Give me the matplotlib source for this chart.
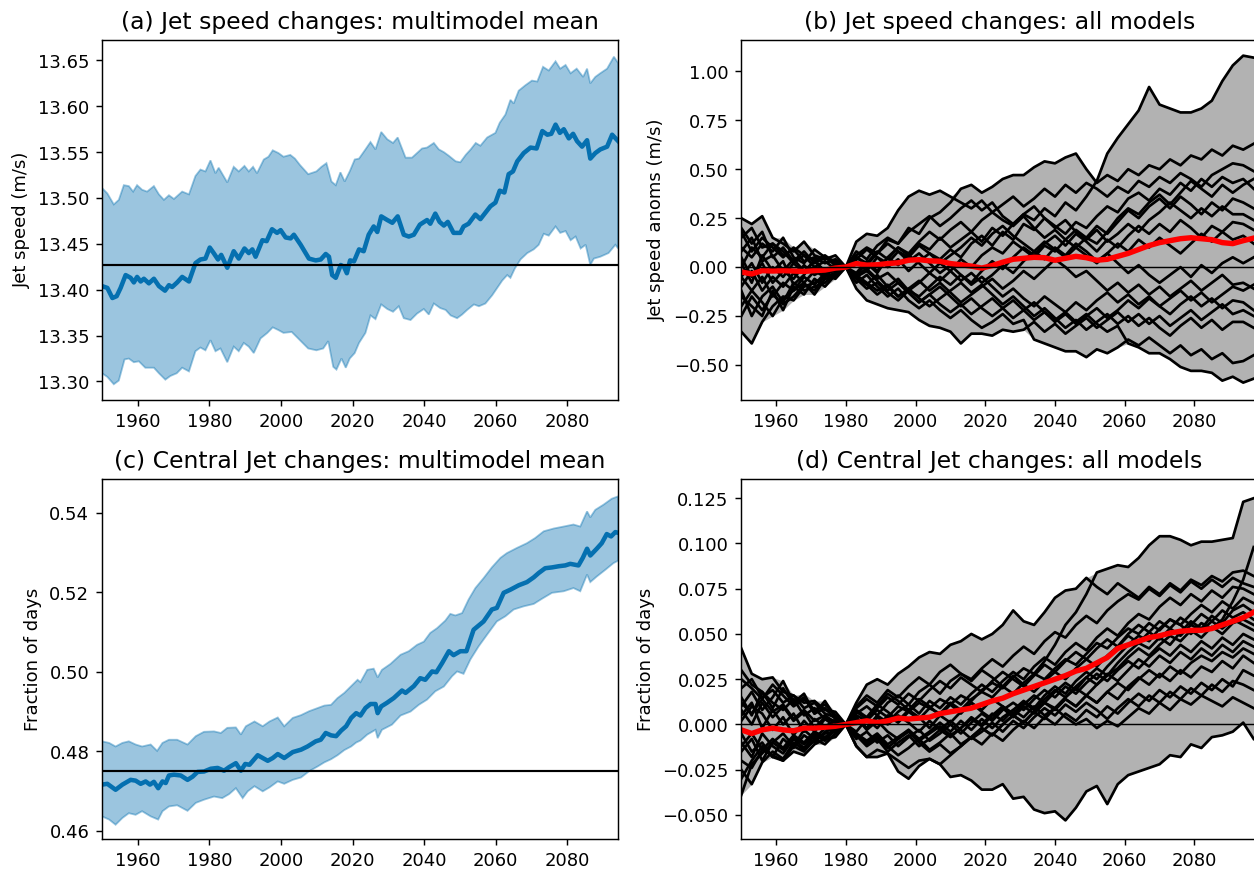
import matplotlib.pyplot as plt
import numpy as np

# ---------------- panel (a): jet speed, multimodel mean and spread ----------------
a_mean_yr = [1950.0, 1951.5, 1952.9, 1954.1, 1955.2, 1956.6, 1958.0, 1958.9, 1959.8, 1960.8,
             1961.7, 1963.1, 1964.5, 1965.9, 1967.6, 1968.7, 1969.6, 1971.0, 1972.4, 1974.3,
             1976.1, 1977.5, 1978.9, 1980.1, 1981.2, 1982.4, 1983.3, 1985.0, 1986.8, 1988.2,
             1989.8, 1991.0, 1992.0, 1992.9, 1994.8, 1996.0, 1997.5, 1998.9, 1999.9, 2001.3,
             2002.7, 2003.6, 2005.5, 2007.8, 2009.7, 2011.1, 2012.5, 2013.4, 2014.3, 2015.3,
             2016.7, 2017.6, 2018.4, 2019.3, 2020.4, 2021.8, 2023.1, 2024.5, 2025.9, 2026.9,
             2028.0, 2029.7, 2031.1, 2032.6, 2034.3, 2035.7, 2037.1, 2038.8, 2040.8, 2041.7,
             2043.1, 2044.3, 2045.5, 2046.6, 2048.2, 2050.1, 2051.0, 2052.4, 2054.3, 2055.7,
             2057.1, 2058.5, 2059.9, 2061.1, 2062.4, 2063.6, 2064.8, 2066.0, 2067.8, 2069.7,
             2071.4, 2073.0, 2074.4, 2075.5, 2076.7, 2077.9, 2079.0, 2080.4, 2081.6, 2082.7,
             2084.1, 2085.5, 2086.4, 2087.8, 2089.2, 2091.1, 2092.5, 2094.2]
a_mean = [13.404, 13.402, 13.391, 13.393, 13.402, 13.416, 13.413, 13.408, 13.414, 13.409,
          13.412, 13.407, 13.412, 13.404, 13.399, 13.405, 13.403, 13.408, 13.414, 13.409,
          13.429, 13.433, 13.434, 13.446, 13.440, 13.433, 13.438, 13.424, 13.442, 13.434,
          13.445, 13.440, 13.444, 13.436, 13.454, 13.453, 13.466, 13.462, 13.465, 13.457,
          13.456, 13.460, 13.449, 13.434, 13.432, 13.433, 13.439, 13.436, 13.416, 13.413,
          13.427, 13.425, 13.418, 13.432, 13.431, 13.444, 13.442, 13.460, 13.469, 13.463,
          13.480, 13.476, 13.473, 13.480, 13.460, 13.458, 13.460, 13.471, 13.476, 13.472,
          13.483, 13.474, 13.470, 13.474, 13.462, 13.462, 13.469, 13.472, 13.482, 13.477,
          13.484, 13.491, 13.495, 13.508, 13.506, 13.526, 13.529, 13.540, 13.549, 13.555,
          13.554, 13.573, 13.569, 13.570, 13.580, 13.571, 13.575, 13.565, 13.570, 13.562,
          13.556, 13.563, 13.543, 13.549, 13.553, 13.556, 13.569, 13.562]

a_up_yr = [1950.0, 1951.5, 1953.3, 1954.7, 1956.1, 1957.5, 1958.7, 1959.8, 1961.2, 1962.6,
           1964.5, 1965.9, 1967.3, 1968.7, 1970.1, 1972.4, 1974.3, 1976.1, 1977.5, 1978.9,
           1980.3, 1981.7, 1982.6, 1985.0, 1986.8, 1988.2, 1989.8, 1991.0, 1992.2, 1993.3,
           1995.2, 1996.5, 1997.7, 1999.3, 2000.7, 2002.6, 2003.9, 2005.3, 2007.6, 2009.9,
           2011.3, 2012.7, 2014.1, 2015.3, 2016.6, 2017.8, 2019.2, 2020.6, 2021.8, 2023.6,
           2025.0, 2026.4, 2028.0, 2029.7, 2031.3, 2032.6, 2034.8, 2036.6, 2038.0, 2039.4,
           2040.8, 2042.7, 2044.1, 2045.5, 2046.9, 2048.8, 2050.1, 2051.6, 2053.0, 2054.4,
           2055.7, 2057.6, 2059.9, 2061.1, 2062.7, 2064.1, 2065.0, 2066.4, 2068.3, 2070.1,
           2071.6, 2073.2, 2074.8, 2076.7, 2078.0, 2079.5, 2080.9, 2082.6, 2084.4, 2085.5,
           2086.4, 2087.8, 2089.2, 2091.1, 2093.0, 2094.2]
a_up = [13.511, 13.505, 13.493, 13.498, 13.514, 13.513, 13.507, 13.514, 13.509, 13.507,
        13.513, 13.504, 13.498, 13.503, 13.499, 13.507, 13.504, 13.524, 13.531, 13.529,
        13.541, 13.527, 13.533, 13.517, 13.534, 13.529, 13.535, 13.529, 13.534, 13.527,
        13.542, 13.545, 13.552, 13.549, 13.545, 13.547, 13.543, 13.536, 13.526, 13.529,
        13.534, 13.538, 13.518, 13.514, 13.528, 13.518, 13.529, 13.542, 13.543, 13.553,
        13.561, 13.553, 13.572, 13.564, 13.560, 13.566, 13.544, 13.544, 13.549, 13.554,
        13.555, 13.560, 13.553, 13.550, 13.546, 13.540, 13.539, 13.547, 13.553, 13.560,
        13.557, 13.566, 13.571, 13.582, 13.591, 13.607, 13.603, 13.617, 13.623, 13.628,
        13.627, 13.643, 13.639, 13.649, 13.641, 13.645, 13.636, 13.641, 13.632, 13.641,
        13.625, 13.632, 13.636, 13.641, 13.654, 13.647]

a_lo_yr = [1950.0, 1951.5, 1953.3, 1954.7, 1956.3, 1957.5, 1958.9, 1960.3, 1962.1, 1964.5,
           1965.9, 1967.7, 1969.1, 1970.9, 1972.4, 1974.3, 1976.1, 1977.5, 1978.9, 1980.3,
           1981.7, 1983.1, 1985.0, 1986.8, 1988.2, 1989.6, 1991.0, 1992.4, 1994.3, 1996.2,
           1997.7, 1999.3, 2000.7, 2003.0, 2005.3, 2007.6, 2009.9, 2011.8, 2013.2, 2014.6,
           2015.5, 2016.9, 2018.1, 2019.2, 2020.6, 2021.8, 2023.6, 2025.0, 2026.4, 2028.0,
           2029.7, 2031.3, 2032.9, 2034.3, 2036.2, 2038.0, 2039.9, 2041.3, 2042.7, 2044.5,
           2046.0, 2047.4, 2049.2, 2050.6, 2052.0, 2053.9, 2055.3, 2057.1, 2059.0, 2060.4,
           2061.8, 2063.2, 2064.1, 2065.3, 2066.9, 2068.8, 2070.6, 2072.0, 2073.4, 2074.8,
           2076.7, 2078.0, 2079.5, 2080.9, 2082.3, 2083.7, 2085.1, 2086.4, 2087.4, 2089.2,
           2091.5, 2093.4, 2094.2]
a_lo = [13.309, 13.305, 13.297, 13.301, 13.324, 13.325, 13.321, 13.322, 13.315, 13.315,
        13.309, 13.302, 13.306, 13.309, 13.315, 13.311, 13.333, 13.337, 13.334, 13.345,
        13.333, 13.336, 13.321, 13.338, 13.333, 13.342, 13.338, 13.331, 13.347, 13.353,
        13.359, 13.356, 13.353, 13.354, 13.345, 13.336, 13.334, 13.336, 13.344, 13.316,
        13.313, 13.325, 13.315, 13.325, 13.331, 13.342, 13.353, 13.372, 13.368, 13.384,
        13.379, 13.376, 13.382, 13.369, 13.367, 13.374, 13.379, 13.373, 13.385, 13.380,
        13.378, 13.372, 13.369, 13.373, 13.378, 13.384, 13.382, 13.385, 13.394, 13.402,
        13.410, 13.416, 13.413, 13.423, 13.433, 13.440, 13.444, 13.449, 13.461, 13.459,
        13.469, 13.462, 13.464, 13.454, 13.458, 13.445, 13.449, 13.427, 13.434, 13.436,
        13.440, 13.449, 13.445]
a_ref = 13.4275

# ---------------- panel (c): central jet fraction, multimodel mean and spread ----------------
c_mean_yr = [1950.0, 1951.5, 1953.8, 1955.7, 1958.0, 1959.4, 1960.8, 1962.2, 1963.4, 1964.5,
             1965.7, 1966.9, 1967.8, 1968.7, 1970.1, 1972.0, 1973.9, 1975.3, 1976.7, 1978.5,
             1980.4, 1982.3, 1984.1, 1985.5, 1987.4, 1988.8, 1990.0, 1991.2, 1993.5, 1994.9,
             1996.3, 1997.7, 1999.1, 2000.9, 2003.3, 2005.6, 2007.4, 2009.7, 2011.1, 2012.5,
             2014.0, 2015.4, 2016.8, 2018.2, 2019.6, 2021.0, 2022.2, 2023.6, 2025.0, 2026.4,
             2027.0, 2028.0, 2029.6, 2031.5, 2033.8, 2034.8, 2037.1, 2038.9, 2040.3, 2042.2,
             2043.4, 2045.0, 2046.9, 2048.2, 2050.1, 2051.8, 2053.8, 2056.6, 2058.9, 2060.3,
             2062.2, 2064.1, 2066.4, 2068.7, 2070.6, 2072.0, 2073.8, 2075.7, 2077.6, 2079.4,
             2080.8, 2083.1, 2084.3, 2085.5, 2086.4, 2088.2, 2089.6, 2091.0, 2092.2, 2093.4,
             2094.2]
c_mean = [0.4716, 0.4718, 0.4703, 0.4716, 0.4728, 0.4726, 0.4718, 0.4724, 0.4716, 0.4723,
          0.4707, 0.4724, 0.4720, 0.4739, 0.4741, 0.4739, 0.4728, 0.4736, 0.4748, 0.4749,
          0.4756, 0.4758, 0.4751, 0.4760, 0.4770, 0.4751, 0.4768, 0.4766, 0.4790, 0.4783,
          0.4776, 0.4783, 0.4793, 0.4783, 0.4798, 0.4804, 0.4812, 0.4825, 0.4829, 0.4846,
          0.4840, 0.4838, 0.4852, 0.4863, 0.4884, 0.4896, 0.4890, 0.4909, 0.4919, 0.4919,
          0.4896, 0.4913, 0.4922, 0.4934, 0.4953, 0.4947, 0.4964, 0.4984, 0.4980, 0.5001,
          0.4999, 0.5022, 0.5052, 0.5042, 0.5052, 0.5052, 0.5106, 0.5127, 0.5157, 0.5161,
          0.5199, 0.5207, 0.5218, 0.5226, 0.5238, 0.5249, 0.5261, 0.5263, 0.5266, 0.5268,
          0.5272, 0.5268, 0.5287, 0.5310, 0.5293, 0.5310, 0.5324, 0.5347, 0.5341, 0.5352,
          0.5350]

c_up_yr = [1950.0, 1952.0, 1953.8, 1955.7, 1957.5, 1959.4, 1961.2, 1963.6, 1965.4, 1966.9,
           1968.7, 1971.0, 1973.9, 1976.2, 1978.5, 1981.3, 1983.2, 1985.0, 1987.4, 1988.8,
           1990.2, 1992.6, 1994.9, 1996.8, 1999.1, 2000.9, 2003.3, 2005.6, 2007.9, 2010.3,
           2012.1, 2014.0, 2015.8, 2017.7, 2019.6, 2021.4, 2022.2, 2024.1, 2025.9, 2027.0,
           2028.2, 2030.6, 2033.4, 2035.7, 2038.0, 2039.9, 2041.7, 2043.6, 2045.9, 2047.3,
           2048.7, 2050.6, 2052.4, 2054.3, 2056.6, 2058.9, 2061.3, 2063.1, 2065.9, 2068.7,
           2071.0, 2073.4, 2076.2, 2079.0, 2081.7, 2083.6, 2085.5, 2086.4, 2087.8, 2090.1,
           2092.4, 2094.2]
c_up = [0.4825, 0.4821, 0.4812, 0.4821, 0.4825, 0.4817, 0.4812, 0.4817, 0.4801, 0.4821,
        0.4829, 0.4829, 0.4817, 0.4838, 0.4849, 0.4850, 0.4846, 0.4859, 0.4860, 0.4842,
        0.4863, 0.4875, 0.4863, 0.4875, 0.4885, 0.4863, 0.4884, 0.4891, 0.4901, 0.4909,
        0.4915, 0.4917, 0.4934, 0.4947, 0.4964, 0.4980, 0.4974, 0.5005, 0.5008, 0.4986,
        0.5005, 0.5020, 0.5043, 0.5052, 0.5068, 0.5076, 0.5098, 0.5110, 0.5129, 0.5146,
        0.5142, 0.5148, 0.5182, 0.5211, 0.5236, 0.5263, 0.5287, 0.5299, 0.5312, 0.5324,
        0.5337, 0.5354, 0.5361, 0.5366, 0.5371, 0.5366, 0.5404, 0.5389, 0.5408, 0.5421,
        0.5436, 0.5442]

c_lo_yr = [1950.0, 1952.0, 1953.8, 1955.7, 1957.5, 1959.4, 1961.2, 1963.6, 1965.7, 1966.9,
           1968.7, 1971.0, 1973.9, 1976.2, 1978.5, 1981.3, 1983.6, 1985.5, 1987.4, 1989.3,
           1990.7, 1992.6, 1994.9, 1996.8, 1999.1, 2000.9, 2003.3, 2005.6, 2007.9, 2010.3,
           2012.1, 2014.0, 2015.8, 2017.7, 2019.6, 2021.0, 2022.2, 2024.1, 2026.4, 2027.0,
           2028.2, 2031.0, 2033.4, 2036.2, 2038.5, 2040.8, 2043.1, 2045.5, 2047.8, 2049.2,
           2051.0, 2052.9, 2055.2, 2057.6, 2060.3, 2062.7, 2065.0, 2067.8, 2070.6, 2072.9,
           2075.7, 2079.0, 2081.7, 2083.6, 2085.5, 2086.4, 2088.2, 2090.6, 2092.9, 2094.2]
c_lo = [0.4636, 0.4628, 0.4615, 0.4632, 0.4644, 0.4640, 0.4649, 0.4636, 0.4628, 0.4649,
        0.4661, 0.4664, 0.4650, 0.4670, 0.4678, 0.4686, 0.4682, 0.4692, 0.4707, 0.4682,
        0.4699, 0.4712, 0.4699, 0.4709, 0.4724, 0.4718, 0.4728, 0.4734, 0.4750, 0.4762,
        0.4772, 0.4780, 0.4790, 0.4803, 0.4812, 0.4822, 0.4827, 0.4842, 0.4854, 0.4833,
        0.4854, 0.4867, 0.4890, 0.4900, 0.4917, 0.4930, 0.4951, 0.4963, 0.4989, 0.5001,
        0.4995, 0.5031, 0.5064, 0.5094, 0.5127, 0.5140, 0.5157, 0.5165, 0.5171, 0.5184,
        0.5199, 0.5203, 0.5211, 0.5203, 0.5245, 0.5226, 0.5240, 0.5257, 0.5274, 0.5280]
c_ref = 0.4751

# ---------------- panels (b) and (d): individual models, 3-yearly ----------------
model_years = list(range(1950, 2098, 3))

b_m01 = [0.25, 0.22, 0.26, 0.15, 0.12, 0.08, 0.13, 0.06, 0.04, 0.06,
         0.00, 0.05, 0.02, 0.08, 0.04, 0.10, 0.06, 0.12, 0.09, 0.15,
         0.10, 0.14, 0.18, 0.13, 0.20, 0.16, 0.22, 0.27, 0.24, 0.30,
         0.26, 0.33, 0.29, 0.36, 0.44, 0.58, 0.66, 0.73, 0.80, 0.92,
         0.83, 0.81, 0.79, 0.79, 0.81, 0.85, 0.95, 1.03, 1.08, 1.07]
b_m02 = [0.10, 0.05, 0.12, 0.08, 0.15, 0.05, 0.02, 0.09, 0.05, 0.03,
         0.00, 0.06, 0.10, 0.07, 0.14, 0.12, 0.20, 0.17, 0.25, 0.28,
         0.33, 0.40, 0.42, 0.38, 0.41, 0.45, 0.47, 0.47, 0.51, 0.54,
         0.53, 0.56, 0.58, 0.50, 0.43, 0.47, 0.44, 0.50, 0.47, 0.52,
         0.50, 0.55, 0.52, 0.57, 0.55, 0.60, 0.57, 0.62, 0.60, 0.63]
b_m03 = [-0.05, 0.02, -0.08, 0.00, -0.05, 0.02, -0.03, 0.00, -0.04, 0.02,
         0.00, 0.13, 0.17, 0.16, 0.20, 0.29, 0.36, 0.39, 0.37, 0.39,
         0.36, 0.33, 0.30, 0.34, 0.28, 0.32, 0.36, 0.31, 0.35, 0.40,
         0.36, 0.42, 0.38, 0.43, 0.40, 0.36, 0.41, 0.38, 0.44, 0.41,
         0.46, 0.43, 0.48, 0.45, 0.41, 0.47, 0.50, 0.53, 0.52, 0.49]
b_m04 = [-0.33, -0.39, -0.28, -0.20, -0.15, -0.17, -0.10, -0.08, -0.05, -0.03,
         0.00, 0.03, -0.02, 0.05, 0.02, 0.08, 0.05, 0.11, 0.07, 0.04,
         0.09, 0.05, 0.12, 0.16, 0.11, 0.18, 0.14, 0.22, 0.19, 0.25,
         0.21, 0.17, 0.23, 0.20, 0.26, 0.31, 0.28, 0.35, 0.38, 0.34,
         0.40, 0.37, 0.43, 0.39, 0.45, 0.41, 0.46, 0.43, 0.45, 0.40]
b_m05 = [0.18, 0.08, 0.15, 0.10, 0.05, 0.10, 0.06, 0.03, 0.06, 0.02,
         0.00, -0.04, 0.02, -0.03, 0.05, 0.10, 0.07, 0.13, 0.18, 0.14,
         0.19, 0.23, 0.18, 0.24, 0.28, 0.24, 0.21, 0.26, 0.20, 0.15,
         0.19, 0.14, 0.10, 0.15, 0.12, 0.18, 0.25, 0.30, 0.27, 0.33,
         0.37, 0.32, 0.38, 0.44, 0.40, 0.36, 0.42, 0.38, 0.42, 0.45]
b_m06 = [-0.15, -0.20, -0.25, -0.12, -0.22, -0.10, -0.14, -0.06, -0.10, -0.04,
         0.00, -0.05, -0.09, -0.04, -0.10, -0.06, -0.12, -0.08, -0.03, -0.07,
         -0.02, 0.04, 0.00, 0.06, 0.10, 0.07, 0.13, 0.09, 0.05, 0.11,
         0.08, 0.14, 0.19, 0.15, 0.21, 0.17, 0.23, 0.29, 0.25, 0.31,
         0.35, 0.30, 0.36, 0.32, 0.27, 0.33, 0.29, 0.35, 0.33, 0.30]
b_m07 = [0.05, -0.05, 0.02, -0.08, -0.02, -0.06, 0.01, -0.04, -0.01, -0.02,
         0.00, 0.08, 0.04, 0.11, 0.15, 0.12, 0.18, 0.22, 0.26, 0.21,
         0.25, 0.30, 0.34, 0.29, 0.33, 0.26, 0.22, 0.27, 0.31, 0.25,
         0.20, 0.24, 0.18, 0.14, 0.19, 0.13, 0.17, 0.22, 0.18, 0.24,
         0.28, 0.33, 0.29, 0.25, 0.30, 0.26, 0.31, 0.27, 0.27, 0.24]
b_m08 = [-0.20, -0.12, -0.18, -0.25, -0.16, -0.12, -0.08, -0.14, -0.06, -0.05,
         0.00, -0.06, -0.11, -0.08, -0.13, -0.17, -0.12, -0.15, -0.10, -0.05,
         -0.09, -0.04, -0.08, -0.02, 0.03, -0.01, 0.05, 0.10, 0.06, 0.12,
         0.16, 0.11, 0.17, 0.13, 0.08, 0.14, 0.10, 0.16, 0.21, 0.17,
         0.22, 0.18, 0.24, 0.20, 0.15, 0.21, 0.18, 0.23, 0.22, 0.19]
b_m09 = [0.15, 0.20, 0.10, 0.12, 0.06, 0.09, 0.03, 0.05, 0.02, 0.04,
         0.00, 0.04, 0.09, 0.05, 0.00, 0.04, -0.02, 0.03, 0.07, 0.02,
         0.06, 0.10, 0.15, 0.11, 0.17, 0.21, 0.16, 0.12, 0.08, 0.13,
         0.09, 0.05, 0.10, 0.06, 0.02, 0.07, 0.12, 0.08, 0.14, 0.10,
         0.15, 0.11, 0.07, 0.12, 0.17, 0.13, 0.18, 0.14, 0.16, 0.12]
b_m10 = [-0.10, -0.02, -0.12, -0.05, -0.10, -0.03, -0.08, -0.02, -0.05, 0.00,
         0.00, -0.03, 0.03, -0.02, 0.05, 0.01, 0.06, 0.02, -0.03, 0.02,
         -0.02, -0.07, -0.03, -0.08, -0.04, 0.01, -0.03, 0.03, 0.08, 0.04,
         0.10, 0.06, 0.12, 0.08, 0.03, 0.07, 0.02, -0.03, 0.01, -0.04,
         -0.08, -0.04, 0.00, -0.05, 0.01, -0.03, 0.02, 0.05, 0.02, 0.05]
b_m11 = [0.00, 0.10, 0.05, 0.12, 0.08, 0.02, 0.06, 0.00, 0.03, -0.01,
         0.00, -0.05, -0.09, -0.14, -0.10, -0.15, -0.11, -0.07, -0.12, -0.08,
         -0.13, -0.18, -0.14, -0.10, -0.06, -0.11, -0.07, -0.02, -0.06, -0.01,
         0.04, 0.00, -0.05, -0.02, -0.07, -0.12, -0.08, -0.13, -0.09, -0.14,
         -0.10, -0.15, -0.11, -0.07, -0.12, -0.08, -0.04, -0.09, -0.08, -0.11]
b_m12 = [-0.25, -0.15, -0.22, -0.14, -0.19, -0.15, -0.09, -0.12, -0.04, -0.06,
         0.00, 0.05, 0.01, 0.07, 0.12, 0.08, 0.03, 0.07, 0.02, -0.03,
         0.01, -0.04, -0.09, -0.05, -0.10, -0.15, -0.11, -0.16, -0.20, -0.15,
         -0.19, -0.23, -0.18, -0.22, -0.17, -0.13, -0.18, -0.14, -0.19, -0.15,
         -0.20, -0.16, -0.12, -0.17, -0.13, -0.18, -0.14, -0.10, -0.12, -0.09]
b_m13 = [0.08, 0.15, 0.03, 0.06, -0.02, 0.04, -0.02, 0.03, -0.02, 0.01,
         0.00, -0.04, -0.01, -0.06, -0.03, -0.08, -0.13, -0.18, -0.14, -0.19,
         -0.23, -0.19, -0.24, -0.20, -0.16, -0.21, -0.26, -0.22, -0.27, -0.23,
         -0.28, -0.24, -0.29, -0.25, -0.21, -0.26, -0.22, -0.17, -0.21, -0.16,
         -0.20, -0.24, -0.19, -0.15, -0.20, -0.16, -0.21, -0.17, -0.18, -0.22]
b_m14 = [-0.05, -0.12, -0.05, -0.15, -0.08, -0.12, -0.05, -0.09, -0.03, -0.02,
         0.00, -0.11, -0.17, -0.19, -0.21, -0.22, -0.23, -0.27, -0.30, -0.31,
         -0.33, -0.39, -0.34, -0.34, -0.35, -0.32, -0.33, -0.32, -0.28, -0.33,
         -0.29, -0.34, -0.30, -0.26, -0.31, -0.27, -0.23, -0.28, -0.24, -0.29,
         -0.25, -0.30, -0.26, -0.22, -0.27, -0.23, -0.19, -0.24, -0.22, -0.25]
b_m15 = [0.20, 0.12, 0.18, 0.05, 0.10, 0.03, 0.08, 0.02, 0.05, 0.01,
         0.00, -0.04, -0.08, -0.12, -0.09, -0.15, -0.11, -0.16, -0.20, -0.16,
         -0.12, -0.08, -0.13, -0.09, -0.14, -0.19, -0.15, -0.20, -0.25, -0.21,
         -0.26, -0.31, -0.27, -0.32, -0.28, -0.24, -0.29, -0.25, -0.30, -0.26,
         -0.31, -0.35, -0.30, -0.26, -0.31, -0.27, -0.32, -0.28, -0.28, -0.31]
b_m16 = [-0.12, -0.25, -0.15, -0.10, -0.18, -0.08, -0.12, -0.10, -0.08, -0.03,
         0.00, -0.08, -0.04, -0.10, -0.15, -0.11, -0.17, -0.21, -0.17, -0.22,
         -0.26, -0.22, -0.27, -0.31, -0.28, -0.24, -0.29, -0.27, -0.37, -0.39,
         -0.41, -0.43, -0.43, -0.46, -0.42, -0.44, -0.41, -0.37, -0.40, -0.36,
         -0.40, -0.44, -0.40, -0.45, -0.42, -0.47, -0.44, -0.49, -0.48, -0.45]
b_m17 = [0.02, -0.08, 0.06, -0.02, 0.03, -0.09, -0.04, 0.04, -0.03, 0.00,
         0.00, -0.05, -0.02, -0.07, -0.12, -0.08, -0.13, -0.18, -0.14, -0.10,
         -0.15, -0.20, -0.16, -0.21, -0.25, -0.21, -0.17, -0.22, -0.18, -0.23,
         -0.27, -0.23, -0.28, -0.24, -0.29, -0.33, -0.30, -0.39, -0.41, -0.44,
         -0.44, -0.47, -0.51, -0.53, -0.53, -0.54, -0.58, -0.56, -0.59, -0.57]
b_models = [b_m01, b_m02, b_m03, b_m04, b_m05, b_m06, b_m07, b_m08, b_m09,
            b_m10, b_m11, b_m12, b_m13, b_m14, b_m15, b_m16, b_m17]
b_mean = [-0.025, -0.035, -0.018, -0.020, -0.018, -0.020, -0.022, -0.018, -0.015, -0.005,
          0.000, 0.018, 0.010, 0.012, 0.018, 0.022, 0.035, 0.038, 0.032, 0.030,
          0.018, 0.012, 0.005, -0.005, 0.008, 0.025, 0.040, 0.045, 0.050, 0.048,
          0.035, 0.045, 0.055, 0.048, 0.035, 0.040, 0.055, 0.070, 0.090, 0.110,
          0.125, 0.135, 0.145, 0.150, 0.145, 0.140, 0.125, 0.120, 0.135, 0.148]

d_m01 = [0.042, 0.028, 0.025, 0.026, 0.018, 0.016, 0.012, 0.013, 0.008, 0.007,
         0.000, 0.005, 0.002, 0.008, 0.004, 0.010, 0.007, 0.012, 0.009, 0.014,
         0.011, 0.016, 0.013, 0.019, 0.023, 0.020, 0.026, 0.031, 0.028, 0.035,
         0.044, 0.055, 0.062, 0.072, 0.084, 0.086, 0.088, 0.087, 0.092, 0.099,
         0.104, 0.104, 0.102, 0.099, 0.101, 0.101, 0.102, 0.103, 0.123, 0.125]
d_m02 = [0.010, 0.018, 0.008, 0.015, 0.024, 0.012, 0.017, 0.006, 0.013, 0.004,
         0.000, 0.012, 0.022, 0.025, 0.022, 0.028, 0.032, 0.037, 0.040, 0.039,
         0.044, 0.046, 0.050, 0.047, 0.050, 0.055, 0.063, 0.057, 0.055, 0.062,
         0.070, 0.074, 0.075, 0.081, 0.076, 0.072, 0.078, 0.074, 0.070, 0.076,
         0.072, 0.078, 0.074, 0.080, 0.077, 0.082, 0.079, 0.084, 0.085, 0.082]
d_m03 = [-0.015, -0.008, -0.020, -0.010, -0.005, -0.012, -0.003, -0.008, -0.002, -0.004,
         0.000, -0.004, 0.003, -0.002, 0.005, 0.001, 0.007, 0.003, 0.009, 0.006,
         0.012, 0.008, 0.014, 0.018, 0.015, 0.021, 0.017, 0.023, 0.028, 0.025,
         0.031, 0.036, 0.033, 0.039, 0.045, 0.042, 0.048, 0.053, 0.050, 0.056,
         0.052, 0.058, 0.055, 0.050, 0.056, 0.053, 0.058, 0.068, 0.080, 0.098]
d_m04 = [0.025, 0.020, 0.014, 0.022, 0.016, 0.010, 0.014, 0.008, 0.011, 0.005,
         0.000, 0.006, 0.010, 0.005, 0.012, 0.016, 0.011, 0.018, 0.022, 0.017,
         0.024, 0.028, 0.025, 0.031, 0.036, 0.032, 0.038, 0.043, 0.039, 0.046,
         0.051, 0.048, 0.055, 0.060, 0.056, 0.063, 0.068, 0.072, 0.069, 0.075,
         0.071, 0.077, 0.073, 0.079, 0.075, 0.080, 0.076, 0.081, 0.078, 0.076]
d_m05 = [-0.030, -0.020, -0.012, -0.018, -0.008, -0.013, -0.006, -0.010, -0.004, -0.002,
         0.000, 0.003, -0.002, 0.005, 0.001, 0.007, 0.011, 0.006, 0.013, 0.009,
         0.015, 0.011, 0.017, 0.022, 0.018, 0.024, 0.029, 0.025, 0.032, 0.037,
         0.033, 0.040, 0.045, 0.041, 0.048, 0.053, 0.049, 0.056, 0.061, 0.058,
         0.065, 0.070, 0.066, 0.072, 0.068, 0.074, 0.070, 0.076, 0.075, 0.072]
d_m06 = [0.005, 0.012, -0.002, 0.008, 0.000, 0.006, -0.004, 0.003, -0.001, 0.002,
         0.000, -0.006, -0.012, -0.008, -0.015, -0.010, -0.006, -0.012, -0.008, -0.003,
         -0.007, -0.002, 0.004, 0.000, 0.006, 0.002, 0.008, 0.013, 0.009, 0.016,
         0.021, 0.017, 0.024, 0.029, 0.025, 0.032, 0.038, 0.044, 0.049, 0.046,
         0.053, 0.058, 0.055, 0.061, 0.066, 0.062, 0.068, 0.064, 0.070, 0.067]
d_m07 = [-0.020, -0.024, -0.014, -0.017, -0.020, -0.012, -0.015, -0.008, -0.011, -0.005,
         0.000, 0.008, 0.004, 0.011, 0.007, 0.002, 0.008, 0.004, -0.002, 0.005,
         0.001, 0.007, 0.012, 0.008, 0.014, 0.010, 0.005, 0.011, 0.016, 0.012,
         0.018, 0.023, 0.019, 0.026, 0.031, 0.027, 0.034, 0.040, 0.045, 0.042,
         0.048, 0.044, 0.051, 0.057, 0.053, 0.060, 0.056, 0.063, 0.066, 0.062]
d_m08 = [0.015, 0.005, 0.018, 0.009, 0.020, 0.011, 0.015, 0.006, 0.009, 0.003,
         0.000, 0.010, 0.016, 0.012, 0.019, 0.015, 0.021, 0.026, 0.022, 0.029,
         0.033, 0.028, 0.024, 0.030, 0.026, 0.021, 0.027, 0.022, 0.018, 0.024,
         0.029, 0.025, 0.031, 0.036, 0.032, 0.038, 0.043, 0.050, 0.055, 0.051,
         0.057, 0.053, 0.059, 0.055, 0.061, 0.057, 0.063, 0.059, 0.062, 0.058]
d_m09 = [-0.010, -0.018, -0.005, -0.012, -0.016, -0.008, -0.013, -0.006, -0.009, -0.003,
         0.000, -0.005, -0.010, -0.006, -0.012, -0.017, -0.013, -0.008, -0.014, -0.010,
         -0.005, -0.011, -0.007, -0.002, -0.006, 0.000, 0.005, 0.001, 0.007, 0.012,
         0.009, 0.015, 0.020, 0.016, 0.022, 0.027, 0.031, 0.037, 0.042, 0.038,
         0.044, 0.049, 0.046, 0.052, 0.048, 0.054, 0.050, 0.056, 0.058, 0.055]
d_m10 = [0.020, 0.025, 0.015, 0.019, 0.012, 0.016, 0.009, 0.012, 0.006, 0.004,
         0.000, 0.007, 0.003, 0.009, 0.015, 0.011, 0.017, 0.013, 0.019, 0.024,
         0.020, 0.026, 0.022, 0.018, 0.024, 0.029, 0.025, 0.021, 0.027, 0.033,
         0.029, 0.035, 0.040, 0.036, 0.042, 0.047, 0.043, 0.049, 0.045, 0.051,
         0.047, 0.053, 0.049, 0.055, 0.052, 0.057, 0.053, 0.058, 0.055, 0.052]
d_m11 = [-0.025, -0.033, -0.021, -0.015, -0.019, -0.010, -0.014, -0.009, -0.005, -0.004,
         0.000, -0.008, -0.004, -0.010, -0.006, -0.012, -0.007, -0.003, -0.009, -0.005,
         0.000, -0.005, 0.001, 0.006, 0.002, 0.008, 0.012, 0.008, 0.014, 0.019,
         0.015, 0.021, 0.017, 0.023, 0.028, 0.024, 0.030, 0.035, 0.031, 0.037,
         0.042, 0.038, 0.044, 0.040, 0.046, 0.042, 0.048, 0.044, 0.050, 0.047]
d_m12 = [0.008, 0.000, 0.012, 0.004, 0.010, 0.002, 0.007, -0.002, 0.004, 0.001,
         0.000, 0.004, -0.003, 0.002, -0.004, -0.008, -0.003, -0.009, -0.005, -0.001,
         -0.006, -0.002, 0.003, -0.001, 0.005, 0.010, 0.006, 0.012, 0.008, 0.014,
         0.019, 0.015, 0.021, 0.026, 0.022, 0.028, 0.024, 0.030, 0.036, 0.032,
         0.038, 0.034, 0.040, 0.036, 0.042, 0.038, 0.044, 0.040, 0.046, 0.043]
d_m13 = [-0.039, -0.022, -0.016, -0.010, -0.014, -0.007, -0.011, -0.005, -0.008, -0.002,
         0.000, -0.006, -0.011, -0.007, -0.013, -0.008, -0.004, -0.010, -0.015, -0.011,
         -0.016, -0.012, -0.007, -0.002, -0.006, 0.000, 0.005, 0.001, 0.007, 0.003,
         0.009, 0.014, 0.010, 0.016, 0.012, 0.018, 0.023, 0.019, 0.025, 0.030,
         0.026, 0.032, 0.028, 0.034, 0.038, 0.035, 0.040, 0.037, 0.042, 0.039]
d_m14 = [0.002, 0.010, 0.006, -0.003, 0.004, -0.006, 0.002, -0.004, 0.003, -0.001,
         0.000, 0.009, 0.014, 0.010, 0.017, 0.013, 0.008, 0.014, 0.010, 0.005,
         0.011, 0.006, 0.012, 0.007, 0.003, 0.009, 0.004, 0.010, 0.006, 0.012,
         0.008, 0.014, 0.010, 0.016, 0.012, 0.018, 0.014, 0.021, 0.026, 0.022,
         0.028, 0.024, 0.030, 0.026, 0.032, 0.029, 0.035, 0.031, 0.038, 0.034]
d_m15 = [-0.005, -0.015, -0.010, -0.018, -0.020, -0.015, -0.017, -0.011, -0.008, -0.007,
         0.000, -0.012, -0.018, -0.014, -0.016, -0.026, -0.030, -0.023, -0.019, -0.022,
         -0.017, -0.012, -0.007, -0.011, -0.005, -0.009, -0.003, 0.002, -0.002, 0.004,
         0.000, 0.006, 0.002, 0.008, 0.004, 0.010, 0.006, 0.012, 0.017, 0.013,
         0.019, 0.015, 0.021, 0.017, 0.023, 0.019, 0.025, 0.021, 0.030, 0.027]
d_m16 = [0.030, 0.022, 0.018, 0.012, 0.008, 0.014, 0.005, 0.009, 0.003, 0.002,
         0.000, 0.003, -0.002, 0.004, 0.000, 0.005, 0.001, -0.004, 0.002, -0.003,
         0.002, -0.003, -0.008, -0.004, 0.001, -0.004, 0.002, -0.002, 0.004, 0.009,
         0.005, 0.011, 0.007, 0.012, 0.008, 0.003, 0.009, 0.014, 0.010, 0.016,
         0.012, 0.018, 0.014, 0.020, 0.016, 0.022, 0.018, 0.024, 0.022, 0.019]
d_m17 = [0.012, 0.006, 0.014, 0.007, 0.011, 0.003, 0.008, 0.002, 0.005, 0.001,
         0.000, -0.005, -0.009, -0.005, -0.011, -0.007, -0.003, -0.008, -0.004, 0.001,
         -0.004, 0.002, -0.003, 0.003, -0.002, 0.004, 0.008, 0.004, 0.010, 0.005,
         0.009, 0.004, 0.000, 0.003, -0.002, 0.002, -0.001, 0.004, 0.009, 0.006,
         0.012, 0.008, 0.014, 0.011, 0.016, 0.013, 0.010, 0.015, 0.012, 0.009]
d_m18 = [-0.012, -0.005, -0.014, -0.008, -0.013, -0.006, -0.010, -0.004, -0.007, -0.003,
         0.000, -0.012, -0.018, -0.018, -0.016, -0.020, -0.024, -0.020, -0.019, -0.022,
         -0.029, -0.028, -0.031, -0.036, -0.036, -0.033, -0.041, -0.040, -0.047, -0.049,
         -0.048, -0.053, -0.046, -0.037, -0.034, -0.044, -0.033, -0.028, -0.026, -0.024,
         -0.022, -0.017, -0.018, -0.011, -0.013, -0.007, -0.006, -0.004, 0.001, -0.008]
d_models = [d_m01, d_m02, d_m03, d_m04, d_m05, d_m06, d_m07, d_m08, d_m09,
            d_m10, d_m11, d_m12, d_m13, d_m14, d_m15, d_m16, d_m17, d_m18]
d_mean = [-0.003, -0.005, -0.003, -0.002, -0.003, -0.0035, -0.002, -0.002, -0.0015, -0.001,
          0.000, 0.001, 0.002, 0.001, 0.002, 0.0035, 0.003, 0.0035, 0.004, 0.006,
          0.007, 0.008, 0.009, 0.011, 0.013, 0.0145, 0.017, 0.019, 0.021, 0.023,
          0.025, 0.027, 0.0295, 0.031, 0.034, 0.037, 0.042, 0.044, 0.046, 0.048,
          0.049, 0.0505, 0.0515, 0.052, 0.052, 0.053, 0.055, 0.057, 0.059, 0.062]

years_ticks = [1960, 1980, 2000, 2020, 2040, 2060, 2080]
blue = '#0570b0'


def mean_panel(ax, mean_yr, mean, up_yr, up, lo_yr, lo, ref, title, ylabel):
    # spread as a closed polygon: upper edge forwards, lower edge backwards
    ax.fill(np.concatenate([up_yr, lo_yr[::-1]]), np.concatenate([up, lo[::-1]]),
            color=blue, alpha=0.4, lw=1)
    ax.plot(mean_yr, mean, color=blue, lw=2.5)
    ax.axhline(ref, color='k', lw=1.2)
    ax.set_xlim(1950, 2094.2)
    ax.set_xticks(years_ticks)
    ax.set_title(title, fontsize=13)
    ax.set_ylabel(ylabel)


def models_panel(ax, models, mean, title, ylabel):
    arr = np.array(models)
    ax.fill_between(model_years, arr.min(axis=0), arr.max(axis=0), color='k', alpha=0.3, lw=0)
    for m in models:
        ax.plot(model_years, m, color='k', lw=1.5)
    ax.plot(model_years, mean, color='red', lw=3)
    ax.axhline(0, color='k', lw=0.8)
    ax.set_xlim(1950, 2098.1)
    ax.set_xticks(years_ticks)
    ax.set_title(title, fontsize=13)
    ax.set_ylabel(ylabel)


fig = plt.figure(figsize=(9.65, 6.695), dpi=130)
ax_a = fig.add_axes([0.0813, 0.5402, 0.4115, 0.4138])
ax_b = fig.add_axes([0.5909, 0.5402, 0.4115, 0.4138])
ax_c = fig.add_axes([0.0813, 0.0356, 0.4115, 0.4138])
ax_d = fig.add_axes([0.5909, 0.0356, 0.4115, 0.4138])

mean_panel(ax_a, a_mean_yr, a_mean, np.array(a_up_yr), np.array(a_up),
           np.array(a_lo_yr), np.array(a_lo), a_ref,
           '(a) Jet speed changes: multimodel mean', 'Jet speed (m/s)')
ax_a.set_ylim(13.280, 13.6726)
ax_a.set_yticks([13.30, 13.35, 13.40, 13.45, 13.50, 13.55, 13.60, 13.65])

models_panel(ax_b, b_models, b_mean, '(b) Jet speed changes: all models', 'Jet speed anoms (m/s)')
ax_b.set_ylim(-0.678, 1.1616)
ax_b.set_yticks([-0.50, -0.25, 0.00, 0.25, 0.50, 0.75, 1.00])

mean_panel(ax_c, c_mean_yr, c_mean, np.array(c_up_yr), np.array(c_up),
           np.array(c_lo_yr), np.array(c_lo), c_ref,
           '(c) Central Jet changes: multimodel mean', 'Fraction of days')
ax_c.set_ylim(0.4579, 0.5486)
ax_c.set_yticks([0.46, 0.48, 0.50, 0.52, 0.54])

models_panel(ax_d, d_models, d_mean, '(d) Central Jet changes: all models', 'Fraction of days')
ax_d.set_ylim(-0.0633, 0.1357)
ax_d.set_yticks([-0.050, -0.025, 0.000, 0.025, 0.050, 0.075, 0.100, 0.125])

fig.savefig('out.png', dpi=130)
